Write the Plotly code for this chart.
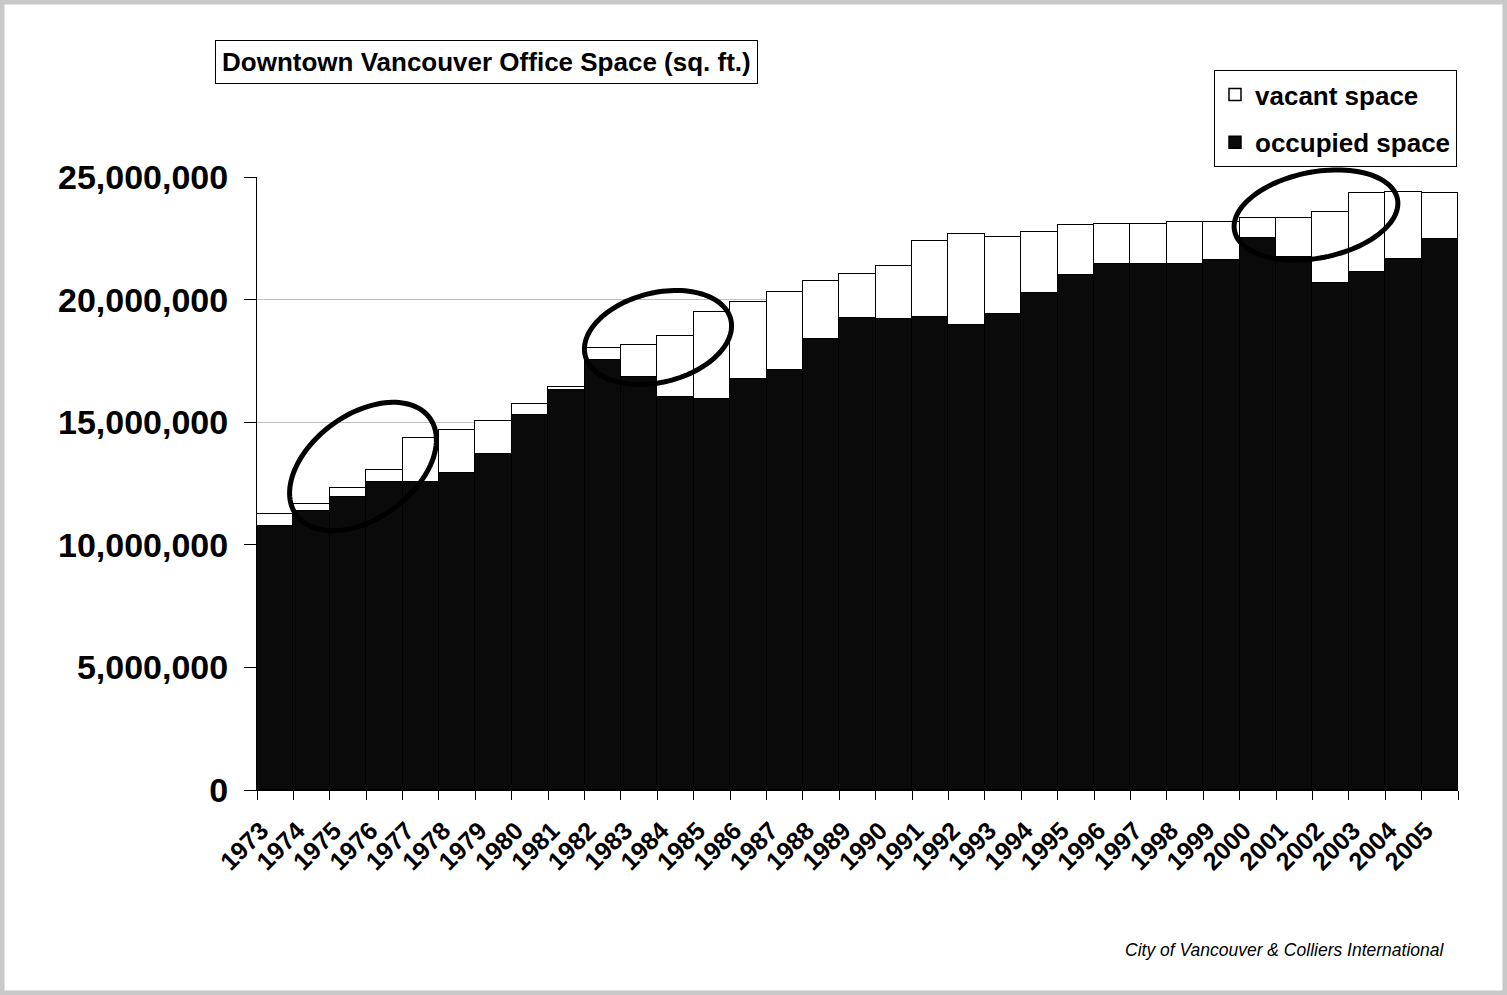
import math
import plotly.graph_objects as go

# ---- data ----
years = [str(y) for y in range(1973, 2006)]
occupied = [10770000, 11370000, 11940000, 12550000, 12550000, 12930000, 13700000,
            15290000, 16310000, 17540000, 16860000, 16010000, 15930000, 16760000,
            17130000, 18380000, 19260000, 19210000, 19300000, 18960000, 19410000,
            20280000, 20990000, 21470000, 21470000, 21440000, 21600000, 22510000,
            21720000, 20690000, 21110000, 21660000, 22460000]
vacant = [490000, 310000, 390000, 500000, 1790000, 1740000, 1350000,
          450000, 140000, 500000, 1270000, 2520000, 3580000, 3160000,
          3190000, 2380000, 1770000, 2150000, 3080000, 3720000, 3130000,
          2490000, 2070000, 1630000, 1610000, 1710000, 1550000, 830000,
          1620000, 2880000, 3220000, 2730000, 1870000]
y_ticks = [0, 5000000, 10000000, 15000000, 20000000, 25000000]

title_text = "Downtown Vancouver Office Space (sq. ft.)"
source_text = "City of Vancouver & Colliers International"

# ---- layout geometry ----
W, H = 1507, 995
L, R, T, B = 257, 49, 177, 205
PW, PH = W - L - R, H - T - B
FONT = "Arial, Liberation Sans, sans-serif"


def px2paper(x, y):
    return (x - L) / PW, (H - B - y) / PH


def ellipse_path(cx, cy, a, b, theta_deg, n=120):
    th = math.radians(theta_deg)
    pts = []
    for i in range(n + 1):
        t = 2 * math.pi * i / n
        ex, ey = a * math.cos(t), b * math.sin(t)
        x = cx + ex * math.cos(th) + ey * math.sin(th)
        y = cy - ex * math.sin(th) + ey * math.cos(th)
        pts.append(px2paper(x, y))
    return "M" + " L".join(f"{p[0]:.5f},{p[1]:.5f}" for p in pts) + " Z"


fig = go.Figure()
fig.add_trace(go.Bar(
    x=years, y=occupied, name="occupied space", legendgroup="o", legendrank=2,
    marker=dict(color="#0a0a0a", line=dict(color="black", width=1.5)),
))
fig.add_trace(go.Bar(
    x=years, y=vacant, name="vacant space", legendgroup="v", legendrank=1,
    marker=dict(color="white", line=dict(color="black", width=1.5)),
))

shapes = []
# circled regions
for (cx, cy, a, b, th) in [(363, 466.5, 82.5, 52, 36),
                           (658, 337.5, 75, 44.7, 14),
                           (1316, 215, 83, 43, 11)]:
    shapes.append(dict(type="path", xref="paper", yref="paper",
                       path=ellipse_path(cx, cy, a, b, th),
                       line=dict(color="black", width=5), layer="above"))
# outer frame
x0, y0 = px2paper(2, 2)
x1, y1 = px2paper(W - 2, H - 2)
shapes.append(dict(type="rect", xref="paper", yref="paper",
                   x0=x0, y0=y0, x1=x1, y1=y1,
                   line=dict(color="#c8c8c8", width=5)))

tx, ty = px2paper(486, 62)
sx, sy = px2paper(1447, 950)
lx, ly = px2paper(1457, 70)

fig.update_layout(
    width=W, height=H,
    margin=dict(l=L, r=R, t=T, b=B),
    barmode="stack", bargap=0,
    paper_bgcolor="white", plot_bgcolor="white",
    font=dict(family=FONT, color="black"),
    showlegend=True,
    legend=dict(x=lx, y=ly, xanchor="right", yanchor="top",
                traceorder="grouped", tracegroupgap=11,
                bordercolor="black", borderwidth=1, bgcolor="white",
                font=dict(family=FONT, size=26, weight=700, color="black")),
    xaxis=dict(type="category", tickangle=-45, tickson="boundaries",
               ticks="outside", ticklen=9, tickcolor="black",
               showline=True, linecolor="black", linewidth=1,
               ticklabelshift=-14, ticklabelstandoff=15,
               tickfont=dict(family=FONT, size=25, weight=700, color="black"),
               range=[-0.5, len(years) - 0.5]),
    yaxis=dict(range=[0, 25000000], tickvals=y_ticks, tickformat=",d",
               ticks="outside", ticklen=12, tickcolor="black",
               showline=True, linecolor="black", linewidth=1,
               showgrid=True, gridcolor="#c0c0c0", gridwidth=1,
               ticklabelstandoff=9,
               tickfont=dict(family=FONT, size=34, weight=700, color="black"),
               zeroline=False),
    shapes=shapes,
    annotations=[
        dict(text=title_text, xref="paper", yref="paper", x=tx, y=ty,
             xanchor="center", yanchor="middle", showarrow=False,
             font=dict(family=FONT, size=26, weight=700, color="black"),
             bordercolor="black", borderwidth=1, borderpad=6, bgcolor="white"),
        dict(text=f"<i>{source_text}</i>", xref="paper", yref="paper",
             x=sx, y=sy, xanchor="right", yanchor="middle", showarrow=False,
             font=dict(family=FONT, size=17.5, color="black")),
    ],
)

fig.write_html("out.html", config={"displayModeBar": False},
               post_script="document.body.style.margin='0';")
